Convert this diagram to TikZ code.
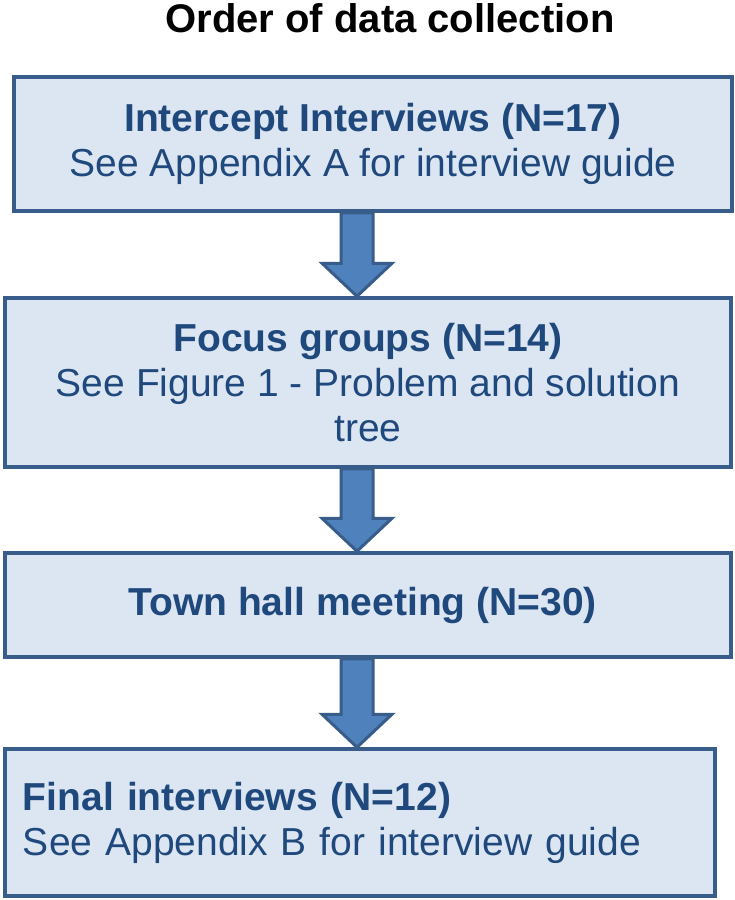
\documentclass[tikz,border=0pt]{standalone}
\usepackage{fontspec}
\setmainfont{Liberation Sans}
\usepackage{xcolor}
\usepackage{tikz}
\usetikzlibrary{calc}

\definecolor{stagefill}{HTML}{DCE6F2}
\definecolor{stageline}{HTML}{385D8A}
\definecolor{stagetext}{HTML}{1F497D}
\definecolor{arrowfill}{HTML}{4F81BD}

\tikzset{
  stagebox/.style={
    draw=stageline, line width=3.5pt, fill=stagefill, align=center,
    text=stagetext, font=\fontsize{39}{45}\selectfont, inner sep=0pt
  },
  stageboxleft/.style={
    stagebox, align=left, text width=674pt, inner xsep=18pt
  },
  blockarrow/.style={
    draw=stageline, line width=3pt, fill=arrowfill, line join=miter
  },
  titlelabel/.style={
    font=\fontsize{40}{48}\selectfont\bfseries, text=black, inner sep=0pt
  },
}

% fat down arrow from one box to the next, along the spine
\newcommand{\blockarrow}[2]{%
  \draw[blockarrow] let \p1=(#1.south -| spine), \p2=(#2.north -| spine) in
    (\x1-16pt,\y1) -- (\x1-16pt,\y2+33pt) -- (\x1-35pt,\y2+33pt) -- (\x2,\y2)
    -- (\x1+35pt,\y2+33pt) -- (\x1+16pt,\y2+33pt) -- (\x1+16pt,\y1) -- cycle;
}

\begin{document}
\begin{tikzpicture}[x=1pt, y=1pt]
  \useasboundingbox (0,0) rectangle (735,-900);

  % Title
  \node[titlelabel, anchor=base] (title) at (390,-32) {Order of data collection};

  % Intercept interviews
  \node[stagebox, minimum width=718pt, minimum height=134pt]
    (intercept) at (373,-144) {
    \textbf{Intercept Interviews (N=17)}\\
    See Appendix A for interview guide
  };

  % Focus groups
  \node[stagebox, minimum width=726pt, minimum height=169pt]
    (focus) at (368,-382.5) {
    \textbf{Focus groups (N=14)}\\
    See Figure 1 - Problem and solution\\
    tree
  };

  % Town hall
  \node[stagebox, minimum width=726pt, minimum height=104pt]
    (townhall) at (368,-605) {
    \textbf{Town hall meeting (N=30)}
  };

  % Final interviews
  \node[stageboxleft, minimum width=710pt, minimum height=147pt]
    (final) at (360,-822.5) {
    \textbf{Final interviews (N=12)}\\
    See Appendix B for interview guide
  };

  % Arrows
  \coordinate (spine) at (357,0);
  \blockarrow{intercept}{focus}
  \blockarrow{focus}{townhall}
  \blockarrow{townhall}{final}
\end{tikzpicture}
\end{document}
